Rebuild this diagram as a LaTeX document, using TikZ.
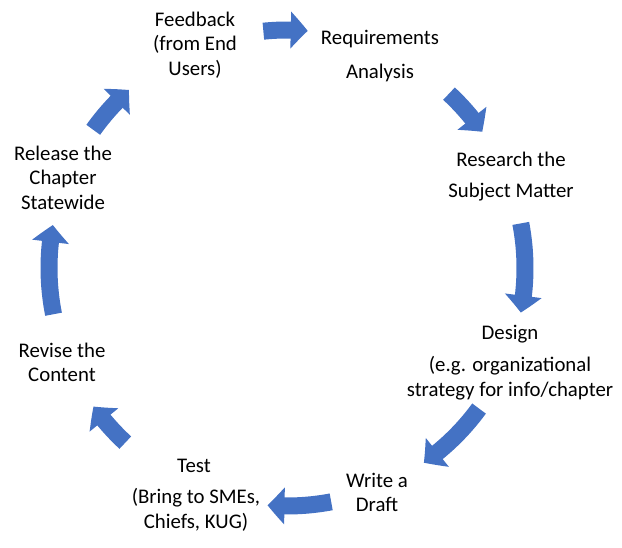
\documentclass[tikz,border=0pt]{standalone}
\usepackage{fontspec}
\setmainfont{Carlito}
\usepackage{tikz}
\usetikzlibrary{arrows.meta,bending}
\definecolor{cycleblue}{HTML}{4472C4}

\begin{document}
\begin{tikzpicture}
[x=1pt, y=1pt,
step label/.style={align=center, inner sep=0pt, font=\fontsize{20.8}{24.4}\selectfont},
cycle arrow/.style={cycleblue, line width = 17pt, -{Triangle[width=36pt,length=17pt,bend]}}]
\useasboundingbox (0,0) rectangle (622,547);
\coordinate (hub) at (287,279);
% the steps of the cycle
\node[step label] (feedback) at (195,502) {Feedback\\(from End\\Users)};
\node[step label] (requirements) at (380,491) {Requirements\\[10pt]Analysis};
\node[step label] (research) at (511,370.5) {Research the\\[7pt]Subject Matter};
\node[step label] (design) at (510,184.5) {Design\\[8pt](e.g. organizational\\strategy for info/chapter};
\node[step label] (draft) at (377,54.5) {Write a\\Draft};
\node[step label] (test) at (194,81) {Test};
\node[step label] (bring) at (196,37) {(Bring to SMEs,\\Chiefs, KUG)};
\node[step label] (revise) at (62,184.5) {Revise the\\Content};
\node[step label] (release) at (63,369.5) {Release the\\Chapter\\Statewide};
% block arrows round the circle
\draw[cycle arrow] ([shift={(95.7:238pt)}]hub) arc[start angle=95.7, end angle=85, radius=238pt];
\draw[cycle arrow] ([shift={(47.1:238pt)}]hub) arc[start angle=47.1, end angle=34.9, radius=238pt];
\draw[cycle arrow] ([shift={(10.8:238pt)}]hub) arc[start angle=10.8, end angle=-10.8, radius=238pt];
\draw[cycle arrow] ([shift={(-36.2:238pt)}]hub) arc[start angle=-36.2, end angle=-54.9, radius=238pt];
\draw[cycle arrow] ([shift={(-79.3:238pt)}]hub) arc[start angle=-79.3, end angle=-94.7, radius=238pt];
\draw[cycle arrow] ([shift={(-132.8:238pt)}]hub) arc[start angle=-132.8, end angle=-144.4, radius=238pt];
\draw[cycle arrow] ([shift={(191.2:238pt)}]hub) arc[start angle=191.2, end angle=169.6, radius=238pt];
\draw[cycle arrow] ([shift={(144.5:238pt)}]hub) arc[start angle=144.5, end angle=131.6, radius=238pt];
\end{tikzpicture}
\end{document}
